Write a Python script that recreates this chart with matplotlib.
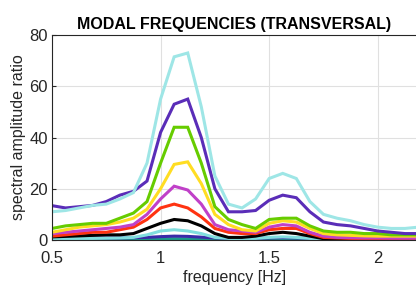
import numpy as np
import matplotlib.pyplot as plt

plt.rcParams['font.family'] = ['Liberation Sans', 'DejaVu Sans']

# frequency grid [Hz]
freq = np.arange(0.5, 2.2, 0.0625)

# spectral amplitude ratios, one per measuring point
cyan_hi = [11, 11.5, 12.5, 13.5, 14, 16, 18.5, 30, 55, 71.5, 73, 52, 25, 14, 12.5, 16,
           24, 26, 24, 15, 10, 8.5, 7.5, 6, 5, 4.5, 4.5, 5]
purple = [13.4, 12.5, 13, 13.5, 15, 17.5, 19, 23, 42, 53, 55, 40, 20, 11, 11, 11.5,
          15.5, 17.5, 16.5, 11, 7, 6, 5.5, 4.5, 3.5, 3, 2.5, 2.5]
green = [4.5, 5.5, 6, 6.5, 6.5, 8.5, 10.5, 15, 30, 44, 44, 30, 13, 8, 6, 4.5,
         8, 8.5, 8.5, 5.5, 3.5, 3, 3, 2.5, 2.5, 2, 2, 2]
yellow = [3, 4, 5, 5.5, 6, 7, 8.5, 12, 20, 29.5, 30.5, 22, 10, 6, 4, 3.5,
          6.5, 7.5, 7, 4.5, 2.5, 2, 1.8, 1.6, 1.5, 1.5, 1.5, 1.5]
magenta = [2.5, 3, 3.5, 4, 4.5, 5, 6, 10, 16, 21, 19.5, 14, 6, 4, 3.5, 3,
           5, 6, 5.5, 3, 1.5, 1, 0.9, 0.8, 0.8, 0.7, 0.7, 0.7]
red = [1.5, 2, 2.5, 3, 3, 4, 5, 8, 12.5, 14, 12.5, 9, 4.5, 3, 2.5, 2.5,
       4, 4.5, 4.5, 2.5, 1, 0.8, 0.6, 0.5, 0.5, 0.5, 0.5, 0.5]
black = [1.2, 1.4, 1.6, 1.8, 2, 2, 2.5, 4.5, 6.5, 8, 7.5, 5.5, 2.5, 1, 1, 1.5,
         2.5, 3, 2.5, 1.5, 0.5, 0.4, 0.3, 0.3, 0.3, 0.3, 0.3, 0.3]
cyan_lo = [0.5, 0.5, 0.6, 0.6, 0.7, 0.8, 1, 2, 3.5, 4, 3.5, 2.5, 1, 0.6, 0.5, 0.6,
           1, 1.2, 1, 0.6, 0.4, 0.3, 0.3, 0.3, 0.3, 0.3, 0.3, 0.3]
blue = [0.8, 0.8, 0.8, 0.8, 0.8, 0.8, 0.9, 1.0, 1.3, 1.5, 1.4, 1.1, 0.8, 0.6, 0.6, 0.6,
        0.8, 0.9, 0.8, 0.6, 0.4, 0.3, 0.3, 0.3, 0.3, 0.3, 0.3, 0.3]
teal = [0.2, 0.2, 0.2, 0.2, 0.2, 0.2, 0.2, 0.3, 0.4, 0.5, 0.4, 0.3, 0.2, 0.2, 0.2, 0.2,
        0.3, 0.3, 0.3, 0.2, 0.1, 0.1, 0.1, 0.1, 0.1, 0.1, 0.1, 0.1]

series = [teal, blue, cyan_lo, black, red, magenta, yellow, green, purple, cyan_hi]
colors = ['#1a9a8a', '#3a2aa8', '#80dede', '#000000', '#ff3311', '#c040c8',
          '#ffdd22', '#66cc00', '#5a2db8', '#9ee6e6']

fig = plt.figure(figsize=(4.16, 2.85), dpi=100)
ax = fig.add_axes([0.125, 0.158, 0.877, 0.719])

for y, c in zip(series, colors):
    ax.plot(freq, y, color=c, lw=2.2, solid_joinstyle='miter')

ax.set_xlim(0.5, 2.18)
ax.set_ylim(0, 80)
ax.set_xticks([0.5, 1, 1.5, 2])
ax.set_xticklabels(['0.5', '1', '1.5', '2'])
ax.set_yticks([0, 20, 40, 60, 80])
ax.grid(True, color='#e0e0e0', lw=0.8)
ax.set_axisbelow(True)
ax.tick_params(labelsize=12, direction='in', length=3, colors='#262626', pad=3)
ax.tick_params(axis='x', pad=8)
for s in ax.spines.values():
    s.set_color('#262626')
    s.set_linewidth(0.8)

ax.set_xlabel('frequency [Hz]', fontsize=11.5, color='#262626', labelpad=3)
ax.set_ylabel('spectral amplitude ratio', fontsize=11.5, color='#262626', labelpad=2)
ax.set_title('MODAL FREQUENCIES (TRANSVERSAL)', fontsize=11.5, fontweight='bold', pad=4)

plt.savefig('out.png', dpi=100)
